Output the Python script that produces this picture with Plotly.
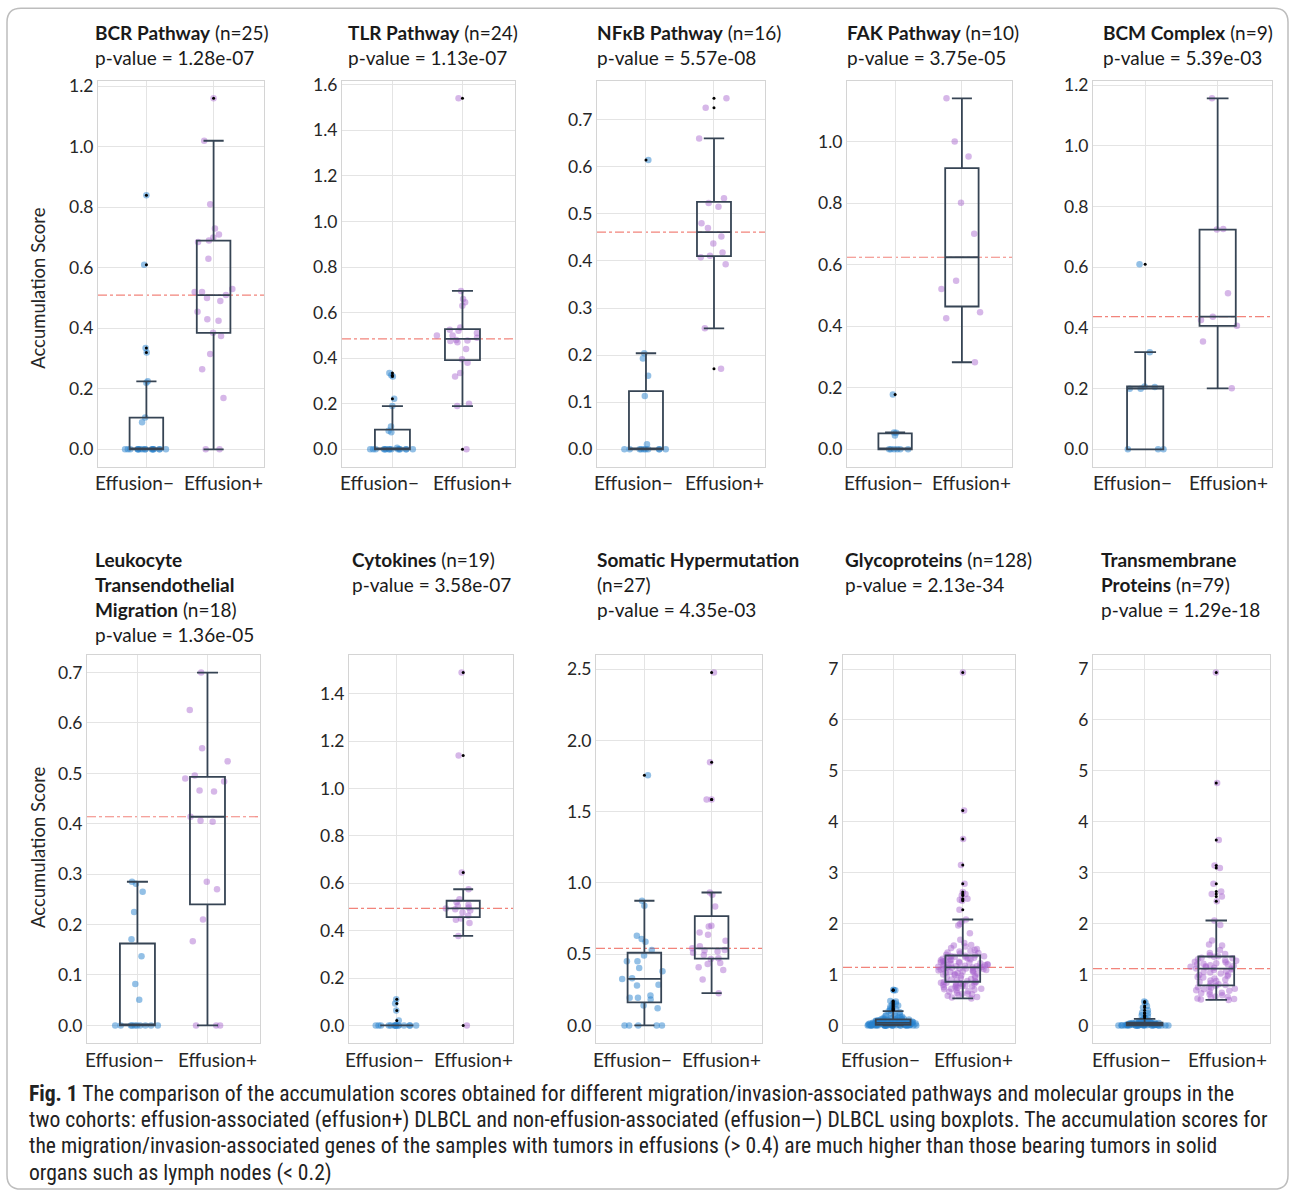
import numpy as np
import plotly.graph_objects as go

# ---------------- data ----------------
CATEGORIES = ["Effusion\u2212", "Effusion+"]

PANEL_TITLES = [
    ["<b>BCR Pathway</b> (n=25)", "p-value = 1.28e-07"],
    ["<b>TLR Pathway</b> (n=24)", "p-value = 1.13e-07"],
    ["<b>NF\u03baB Pathway</b> (n=16)", "p-value = 5.57e-08"],
    ["<b>FAK Pathway</b> (n=10)", "p-value = 3.75e-05"],
    ["<b>BCM Complex</b> (n=9)", "p-value = 5.39e-03"],
    ["<b>Leukocyte</b>", "<b>Transendothelial</b>", "<b>Migration</b> (n=18)", "p-value = 1.36e-05"],
    ["<b>Cytokines</b> (n=19)", "p-value = 3.58e-07"],
    ["<b>Somatic Hypermutation</b>", "(n=27)", "p-value = 4.35e-03"],
    ["<b>Glycoproteins</b> (n=128)", "p-value = 2.13e-34"],
    ["<b>Transmembrane</b>", "<b>Proteins</b> (n=79)", "p-value = 1.29e-18"],
]

bcr_neg = [0.84, 0.61, 0.335, 0.32, 0.225, 0.22, 0.105, 0.09,
           0, 0, 0, 0, 0, 0, 0, 0, 0, 0, 0, 0, 0, 0, 0, 0, 0]
bcr_pos = [1.16, 1.02, 0.81, 0.73, 0.71, 0.70, 0.69, 0.685, 0.63, 0.53, 0.52, 0.52, 0.51,
           0.50, 0.49, 0.455, 0.43, 0.425, 0.385, 0.375, 0.315, 0.265, 0.17, 0, 0]

tlr_neg = [0.335, 0.325, 0.32, 0.222, 0.19, 0.10, 0.082, 0.075, 0.007,
           0, 0, 0, 0, 0, 0, 0, 0, 0, 0, 0, 0, 0, 0, 0]
tlr_pos = [1.54, 0.695, 0.66, 0.645, 0.63, 0.535, 0.525, 0.52, 0.51, 0.50, 0.50, 0.49,
           0.48, 0.478, 0.475, 0.47, 0.44, 0.395, 0.38, 0.335, 0.32, 0.20, 0.19, 0.0]

nfkb_neg = [0.614, 0.204, 0.193, 0.156, 0.113, 0.011, 0, 0, 0, 0, 0, 0, 0, 0, 0, 0]
nfkb_pos = [0.745, 0.725, 0.66, 0.533, 0.523, 0.515, 0.48, 0.47, 0.452, 0.437, 0.418,
            0.411, 0.408, 0.393, 0.257, 0.171]

fak_neg = [0.178, 0.055, 0.054, 0.045, 0, 0, 0, 0, 0, 0]
fak_pos = [1.14, 1.0, 0.951, 0.801, 0.70, 0.548, 0.521, 0.445, 0.426, 0.283]

bcm_neg = [0.61, 0.32, 0.207, 0.205, 0.2, 0.2, 0, 0, 0]
bcm_pos = [1.156, 0.726, 0.724, 0.514, 0.437, 0.426, 0.407, 0.355, 0.201]

leuk_neg = [0.285, 0.281, 0.265, 0.225, 0.171, 0.137, 0.082, 0.051,
            0, 0, 0, 0, 0, 0, 0, 0, 0, 0]
leuk_pos = [0.70, 0.626, 0.55, 0.524, 0.496, 0.49, 0.484, 0.466, 0.464, 0.414, 0.406,
            0.404, 0.285, 0.27, 0.21, 0.167, 0, 0, 0]

cyto_neg = [0.11, 0.092, 0.063, 0.021, 0, 0, 0, 0, 0, 0, 0, 0, 0, 0, 0, 0, 0, 0, 0]
cyto_pos = [1.49, 1.14, 0.646, 0.575, 0.533, 0.52, 0.51, 0.505, 0.498, 0.494, 0.49,
            0.485, 0.477, 0.463, 0.451, 0.446, 0.432, 0.378, 0.0]

shm_neg = [1.756, 0.875, 0.84, 0.63, 0.606, 0.588, 0.53, 0.49, 0.45, 0.45, 0.403, 0.38,
           0.331, 0.326, 0.285, 0.28, 0.21, 0.194, 0.194, 0.182, 0.14, 0.12, 0, 0, 0, 0, 0]
shm_pos = [2.477, 1.847, 1.586, 1.586, 0.933, 0.917, 0.835, 0.70, 0.695, 0.653, 0.637,
           0.595, 0.555, 0.541, 0.53, 0.525, 0.518, 0.51, 0.494, 0.471, 0.466, 0.438,
           0.431, 0.408, 0.389, 0.322, 0.226]

glyco_neg = [0, 0, 0, 0, 0, 0, 0, 0, 0, 0, 0, 0, 0, 0, 0, 0, 0, 0, 0, 0,
             0.002, 0.003, 0.004, 0.004, 0.005, 0.006, 0.006, 0.007, 0.008, 0.008, 0.009, 0.01,
             0.011, 0.012, 0.013, 0.015, 0.016, 0.017, 0.018, 0.019, 0.02, 0.021, 0.022, 0.024,
             0.025, 0.026, 0.028, 0.029, 0.03, 0.031, 0.032, 0.034, 0.035, 0.036, 0.038, 0.039,
             0.04, 0.042, 0.043, 0.045, 0.046, 0.047, 0.048, 0.049,
             0.051, 0.053, 0.055, 0.057, 0.058, 0.06, 0.062, 0.064, 0.066, 0.068, 0.07, 0.072,
             0.074, 0.076, 0.078, 0.08, 0.082, 0.085, 0.087, 0.09, 0.092, 0.095, 0.097, 0.1,
             0.102, 0.105, 0.107, 0.11, 0.112, 0.115, 0.117, 0.119,
             0.122, 0.125, 0.13, 0.135, 0.14, 0.145, 0.15, 0.16, 0.17, 0.18, 0.19, 0.2,
             0.21, 0.22, 0.24, 0.26, 0.28,
             0.30, 0.31, 0.32, 0.33, 0.35, 0.37, 0.39, 0.41, 0.43, 0.45, 0.47, 0.48,
             0.69, 0.69, 0.70]
glyco_pos = [0.53, 0.55, 0.56, 0.58, 0.59, 0.61, 0.62, 0.62, 0.64, 0.66, 0.67, 0.69, 0.70,
             0.71, 0.72, 0.72, 0.74, 0.75, 0.76, 0.77, 0.77, 0.78, 0.79, 0.80, 0.81, 0.82,
             0.82, 0.83, 0.84, 0.84, 0.85, 0.85,
             0.86, 0.87, 0.89, 0.90, 0.91, 0.93, 0.94, 0.95, 0.97, 0.98, 0.99, 1.00, 1.01,
             1.02, 1.03, 1.04, 1.05, 1.05, 1.06, 1.07, 1.08, 1.09, 1.09, 1.10, 1.11, 1.11,
             1.12, 1.12, 1.13, 1.13, 1.13, 1.135,
             1.145, 1.15, 1.15, 1.16, 1.16, 1.17, 1.18, 1.18, 1.19, 1.20, 1.20, 1.21, 1.22,
             1.23, 1.23, 1.24, 1.25, 1.26, 1.27, 1.27, 1.28, 1.29, 1.30, 1.31, 1.32, 1.33,
             1.34, 1.34, 1.35, 1.36, 1.36, 1.37,
             1.38, 1.39, 1.41, 1.42, 1.43, 1.45, 1.46, 1.48, 1.50, 1.52, 1.55, 1.57, 1.58,
             1.62, 1.68, 1.81, 1.96, 1.99, 2.04, 2.08,
             2.27, 2.45, 2.47, 2.49, 2.55, 2.58, 2.62, 2.78, 3.15, 3.66, 4.22, 6.93]

tm_neg = [0, 0, 0, 0, 0, 0, 0, 0, 0, 0, 0, 0, 0, 0, 0, 0, 0, 0.001, 0.002, 0.002,
          0.003, 0.004, 0.005, 0.006, 0.007, 0.008, 0.009, 0.01, 0.011, 0.012, 0.013, 0.014,
          0.015, 0.016, 0.017, 0.018, 0.019, 0.019, 0.02, 0.021,
          0.023, 0.025, 0.027, 0.028, 0.03, 0.032, 0.034, 0.035, 0.037, 0.039, 0.04, 0.042,
          0.044, 0.045, 0.047, 0.049, 0.05, 0.052, 0.054,
          0.056, 0.06, 0.065, 0.07, 0.075, 0.08, 0.09, 0.1, 0.11, 0.13,
          0.15, 0.18, 0.2, 0.24, 0.25, 0.3, 0.35, 0.38, 0.45, 0.47]
tm_pos = [0.50, 0.51, 0.52, 0.53, 0.55, 0.56, 0.57, 0.59, 0.61, 0.63, 0.64, 0.66, 0.68,
          0.69, 0.71, 0.72, 0.74, 0.75, 0.77, 0.78,
          0.795, 0.81, 0.83, 0.85, 0.87, 0.88, 0.90, 0.92, 0.94, 0.95, 0.97, 0.99, 1.00,
          1.02, 1.04, 1.05, 1.07, 1.09, 1.10, 1.116,
          1.12, 1.13, 1.14, 1.15, 1.16, 1.17, 1.18, 1.19, 1.20, 1.21, 1.22, 1.24, 1.25,
          1.27, 1.28, 1.30, 1.32, 1.33, 1.35,
          1.356, 1.38, 1.40, 1.42, 1.48, 1.57, 1.59, 1.67, 1.97, 2.06,
          2.44, 2.53, 2.58, 2.63, 2.78, 3.09, 3.14, 3.64, 4.76, 6.93]

NEG_SERIES = [bcr_neg, tlr_neg, nfkb_neg, fak_neg, bcm_neg,
              leuk_neg, cyto_neg, shm_neg, glyco_neg, tm_neg]
POS_SERIES = [bcr_pos, tlr_pos, nfkb_pos, fak_pos, bcm_pos,
              leuk_pos, cyto_pos, shm_pos, glyco_pos, tm_pos]

Y_DTICKS = [0.2, 0.2, 0.1, 0.2, 0.2, 0.1, 0.2, 0.5, 1, 1]
Y_FORMATS = [".1f"] * 8 + ["d", "d"]

CAPTION = [
    "<b>Fig. 1</b> The comparison of the accumulation scores obtained for different migration/invasion-associated pathways and molecular groups in the",
    "two cohorts: effusion-associated (effusion+) DLBCL and non-effusion-associated (effusion\u2014) DLBCL using boxplots. The accumulation scores for",
    "the migration/invasion-associated genes of the samples with tumors in effusions (&gt; 0.4) are much higher than those bearing tumors in solid",
    "organs such as lymph nodes (&lt; 0.2)",
]

# ---------------- layout (pixels) ----------------
W, H = 1292, 1192
# left, right, top, bottom of plot area; title x, first title line y
PANEL_BOXES = [
    (98, 264, 81, 467, 93, 33),
    (342, 515, 81, 467, 346, 33),
    (597, 765, 81, 467, 595, 33),
    (847, 1012, 81, 467, 845, 33),
    (1093, 1272, 81, 467, 1101, 33),
    (87, 260, 655, 1043, 93, 560),
    (349, 513, 655, 1043, 350, 560),
    (596, 762, 655, 1043, 595, 560),
    (843, 1015, 655, 1043, 843, 560),
    (1093, 1270, 655, 1043, 1099, 560),
]
XLABEL_POS = [-0.18, 1.15]   # category label centres in axis units
XRANGE = [-0.72, 1.75]
FONT = "Lato, Carlito, 'Open Sans', sans-serif"
TEXT_COLOR = "#262626"
BLUE = "rgba(40,130,205,0.5)"
PURPLE = "rgba(165,95,205,0.45)"
BOX_COLOR = "#364454"
GRID = "#e4e4e4"
FRAME = "#d4d4d4"

# vertical calibration of the capture (observed: top content lands ~7 px low)
CAL_OFF, CAL_SCALE = 7.2, 0.9939


def px_x(p):
    return p / W


def px_y(p):
    p = (p - CAL_OFF) / CAL_SCALE
    return min(1.0, max(0.0, 1 - p / H))


def box_stats(vals):
    a = np.asarray(vals, dtype=float)
    q1, med, q3 = np.percentile(a, [25, 50, 75])
    iqr = q3 - q1
    lo_lim, hi_lim = q1 - 1.5 * iqr, q3 + 1.5 * iqr
    inside = a[(a >= lo_lim) & (a <= hi_lim)]
    out = a[(a < lo_lim) | (a > hi_lim)]
    return q1, med, q3, inside.min(), inside.max(), out


fig = go.Figure()
layout = dict(
    width=W, height=H, autosize=False,
    margin=dict(l=0, r=0, t=0, b=0, pad=0),
    paper_bgcolor="white", plot_bgcolor="white",
    showlegend=False, boxmode="overlay",
    font=dict(family=FONT, color=TEXT_COLOR, size=17),
)
annotations = []
shapes = []

for i in range(10):
    k = "" if i == 0 else str(i + 1)
    xa, ya = "x" + k, "y" + k
    L, R, T, B, tx, ty = PANEL_BOXES[i]
    groups = [NEG_SERIES[i], POS_SERIES[i]]
    colors = [BLUE, PURPLE]

    for pos, (vals, col) in enumerate(zip(groups, colors)):
        # jittered sample points
        fig.add_trace(go.Box(
            y=vals, x0=pos, width=0.75, boxpoints="all", jitter=1.0, pointpos=0,
            marker=dict(color=col, size=6.5, line=dict(width=0)),
            line=dict(width=0, color="rgba(0,0,0,0)"), fillcolor="rgba(0,0,0,0)",
            hoverinfo="y", xaxis=xa, yaxis=ya,
        ))
        q1, med, q3, lf, uf, out = box_stats(vals)
        fig.add_trace(go.Box(
            x=[pos], q1=[q1], median=[med], q3=[q3], lowerfence=[lf], upperfence=[uf],
            width=0.5, whiskerwidth=0.6, boxpoints=False,
            line=dict(color=BOX_COLOR, width=1.8), fillcolor="rgba(0,0,0,0)",
            xaxis=xa, yaxis=ya,
        ))
        if len(out):
            fig.add_trace(go.Scatter(
                x=[pos] * len(out), y=list(out), mode="markers",
                marker=dict(color="black", size=3), hoverinfo="y",
                xaxis=xa, yaxis=ya,
            ))

    allv = np.asarray(groups[0] + groups[1], dtype=float)
    lo, hi = allv.min(), allv.max()
    span = hi - lo
    yr = [lo - 0.05 * span, hi + 0.05 * span]

    layout["xaxis" + k] = dict(
        domain=[px_x(L), px_x(R)], anchor=ya, range=XRANGE,
        tickvals=[0, 1], showticklabels=False, showgrid=True, gridcolor=GRID,
        gridwidth=1, zeroline=False, showline=True, linecolor=FRAME, linewidth=1,
        mirror=True, ticks="",
    )
    layout["yaxis" + k] = dict(
        domain=[px_y(B), px_y(T)], anchor=xa, range=yr, dtick=Y_DTICKS[i], tick0=0,
        tickformat=Y_FORMATS[i], showgrid=True, gridcolor=GRID, gridwidth=1,
        zeroline=False, showline=True, linecolor=FRAME, linewidth=1, mirror=True,
        ticks="", tickfont=dict(size=17.5, color=TEXT_COLOR, family=FONT),
    )

    # category labels
    for c, lab in enumerate(CATEGORIES):
        annotations.append(dict(
            text=lab, xref=xa, yref="paper", x=XLABEL_POS[c], y=px_y(B + 16),
            xanchor="center", yanchor="middle", showarrow=False,
            font=dict(size=19, color=TEXT_COLOR, family=FONT),
        ))

    # reference line at the Effusion+ median
    m = float(np.median(groups[1]))
    shapes.append(dict(
        type="line", xref=xa, yref=ya, x0=XRANGE[0], x1=XRANGE[1], y0=m, y1=m,
        line=dict(color="rgba(240,110,100,0.85)", width=1.2, dash="dashdot"),
        layer="below",
    ))

    for j, line in enumerate(PANEL_TITLES[i]):
        annotations.append(dict(
            text=line, xref="paper", yref="paper", x=px_x(tx), y=px_y(ty + 25 * j),
            xanchor="left", yanchor="middle", showarrow=False,
            font=dict(size=19, color="#1a1a1a", family=FONT),
        ))

# y-axis titles
for yc in (289, 848):
    annotations.append(dict(
        text="Accumulation Score", xref="paper", yref="paper", x=px_x(38), y=px_y(yc),
        xanchor="center", yanchor="middle", textangle=-90, showarrow=False,
        font=dict(size=18.5, color=TEXT_COLOR, family=FONT),
    ))

# caption
for j, line in enumerate(CAPTION):
    annotations.append(dict(
        text=line, xref="paper", yref="paper", x=px_x(27), y=px_y(1093 + 26.5 * j),
        xanchor="left", yanchor="middle", showarrow=False,
        font=dict(size=21.6, color="#222222",
                  family="'Liberation Sans Narrow', 'Roboto Condensed', Lato, sans-serif"),
    ))

# rounded outer frame
x0, x1 = px_x(7), px_x(1288)
y0, y1 = px_y(1189), px_y(8.5)
rx, ry = 14 / W, 14 / H
path = (f"M {x0+rx},{y1} L {x1-rx},{y1} Q {x1},{y1} {x1},{y1-ry} "
        f"L {x1},{y0+ry} Q {x1},{y0} {x1-rx},{y0} L {x0+rx},{y0} "
        f"Q {x0},{y0} {x0},{y0+ry} L {x0},{y1-ry} Q {x0},{y1} {x0+rx},{y1} Z")
shapes.append(dict(type="path", xref="paper", yref="paper", path=path,
                   line=dict(color="#bdbdbd", width=1.5)))

layout["annotations"] = annotations
layout["shapes"] = shapes
fig.update_layout(**layout)

POST = (
    "document.documentElement.style.margin='0px';"
    "document.documentElement.style.padding='0px';"
    "document.body.style.margin='0px';document.body.style.padding='0px';"
    "document.body.style.overflow='hidden';"
    "var gd=document.getElementById('{plot_id}');"
    "gd.style.position='absolute';gd.style.top='0px';gd.style.left='0px';"
)

fig.write_html("out.html", include_plotlyjs=True, full_html=True,
               config={"displayModeBar": False}, post_script=POST)
